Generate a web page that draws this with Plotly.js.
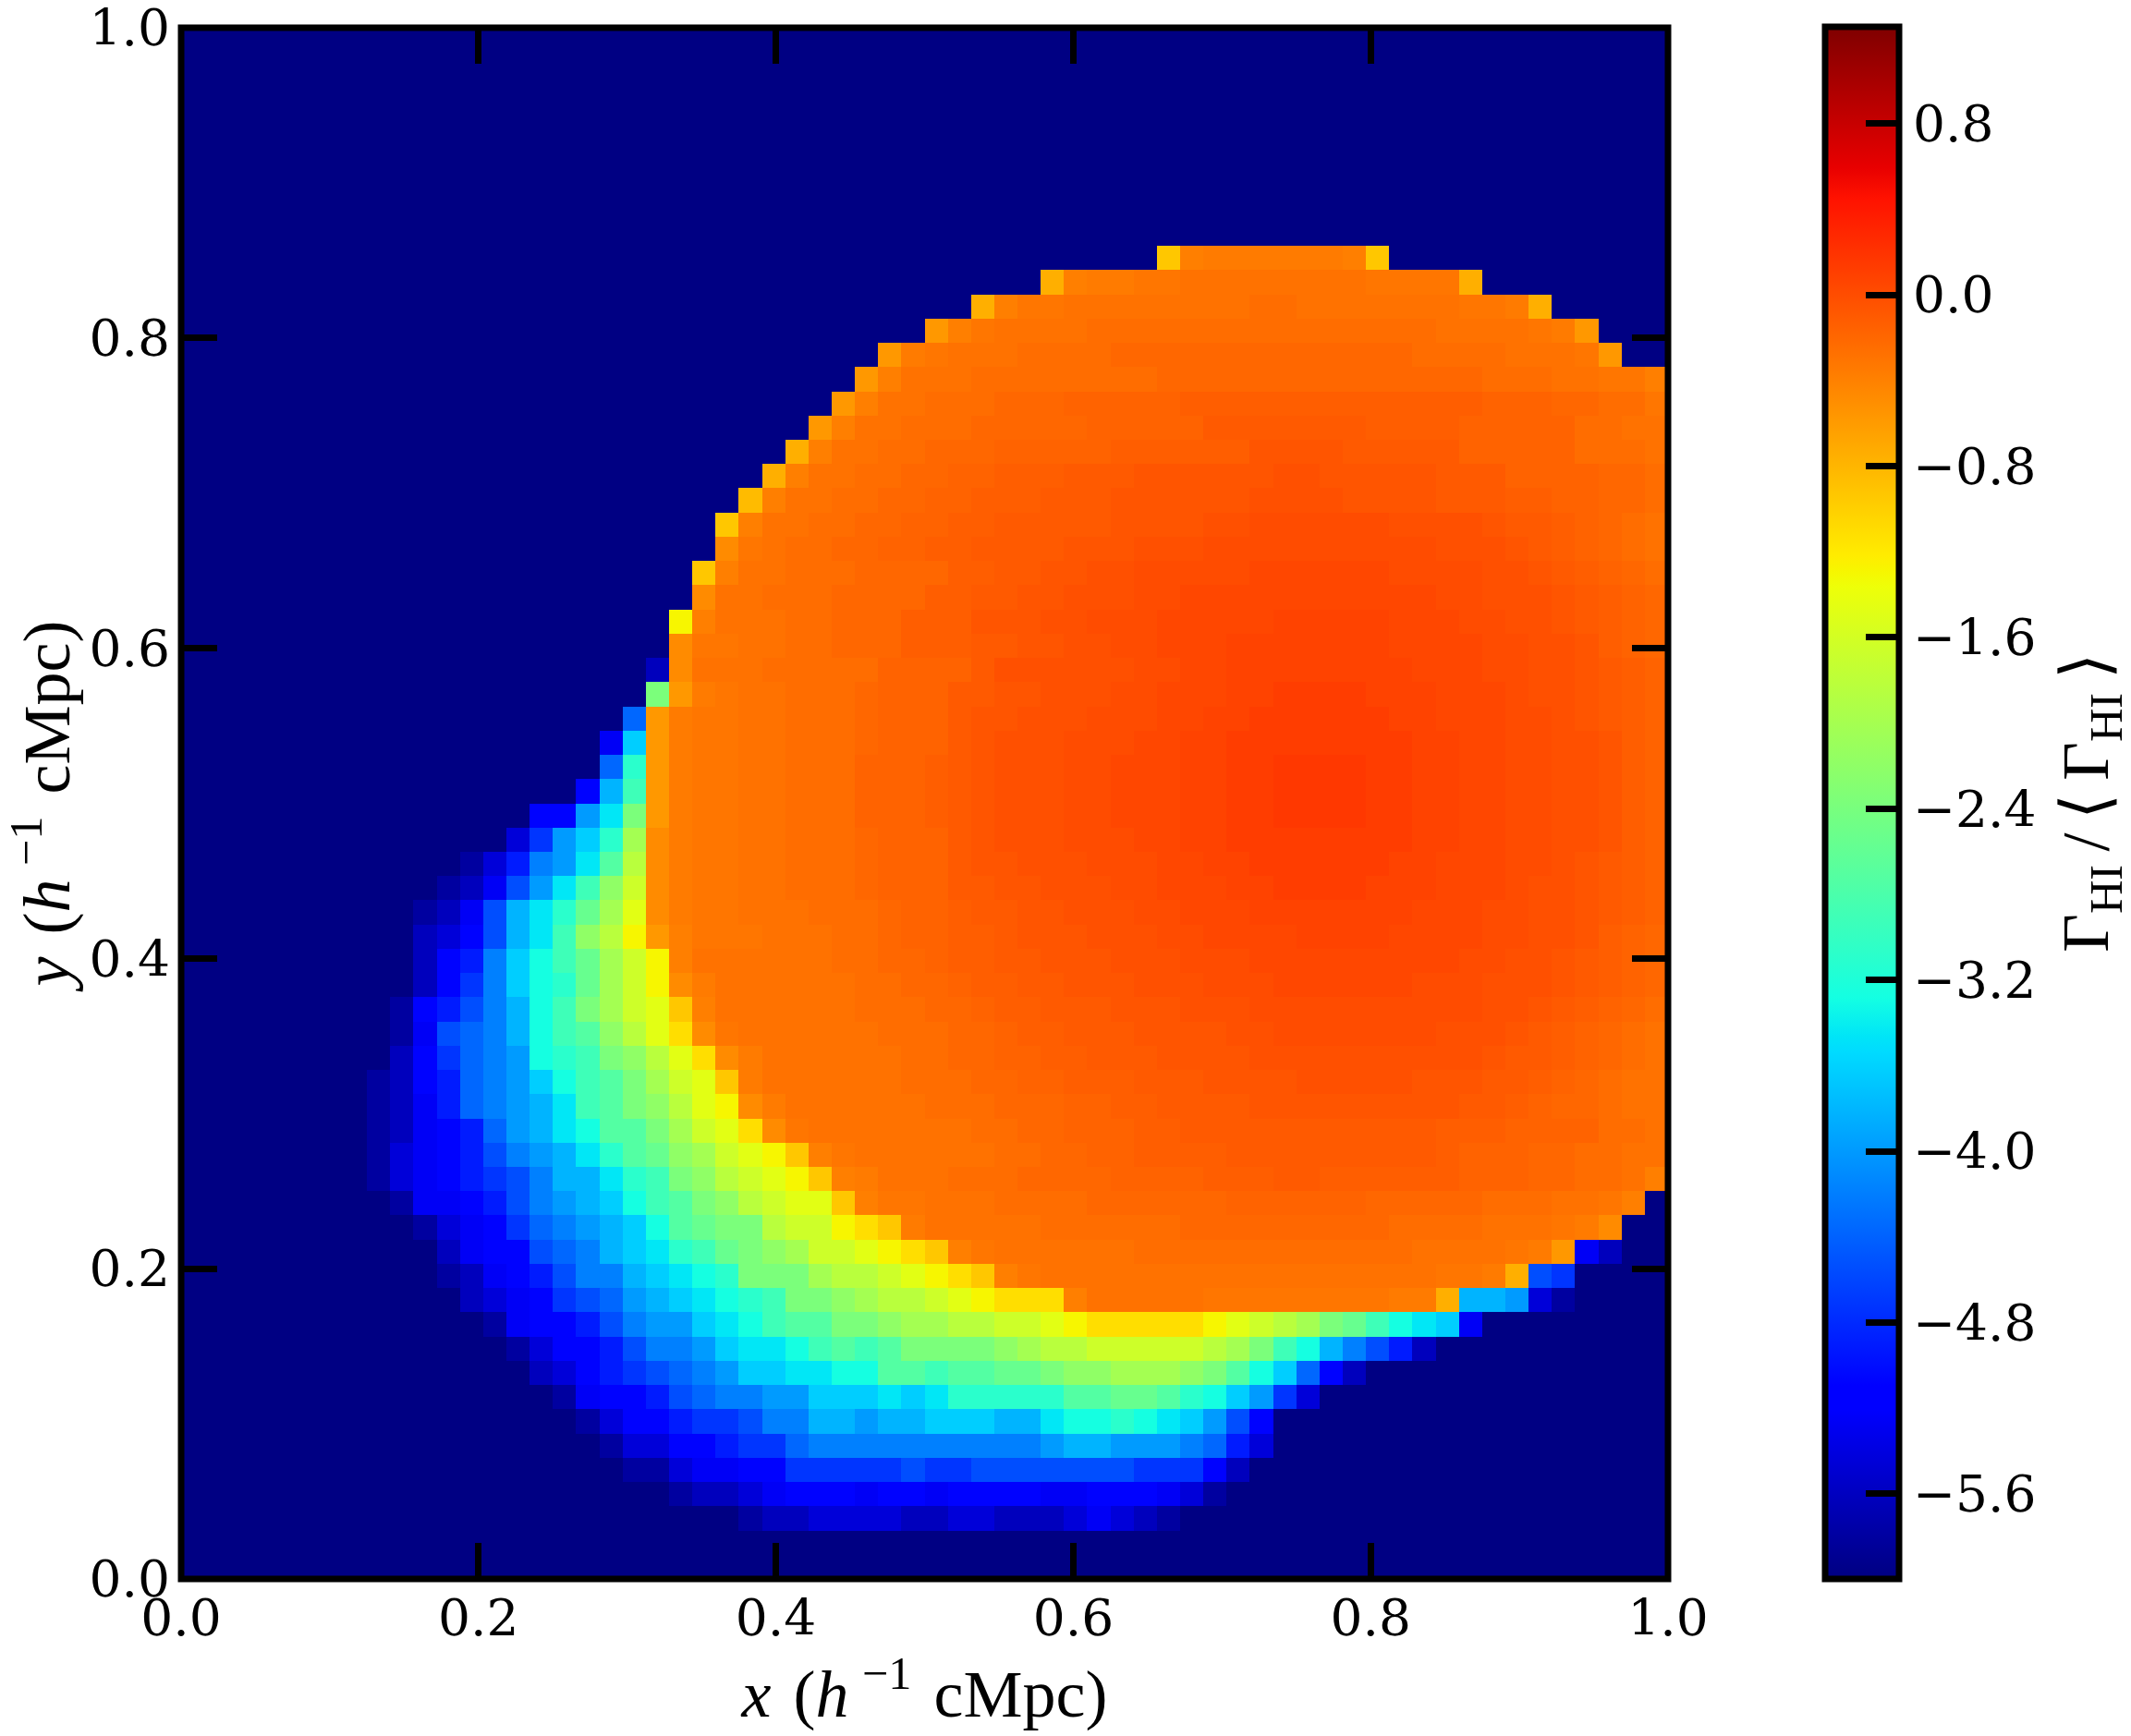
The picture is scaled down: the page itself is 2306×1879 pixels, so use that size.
<!DOCTYPE html>
<html>
<head>
<meta charset="utf-8">
<script src="https://cdn.plot.ly/plotly-3.0.1.min.js"></script>
<style>html,body{margin:0;padding:0;background:#fff}</style>
</head>
<body>
<div id="chart" style="width:2306px;height:1879px"></div>
<script>
// Values. Each cell of the 64 x 64 map is a symbol, each symbol one value.
const levelChars = "0123456789abcdefghijklmnopqrstuvwxABCDEFGHIJKLMNO";
const levelValues = [-5.98,-5.80,-5.62,-5.44,-5.26,-5.08,-4.90,-4.72,-4.54,-4.36,
  -4.18,-3.99,-3.81,-3.63,-3.45,-3.27,-3.09,-2.91,-2.73,-2.55,-2.37,-2.19,-2.01,-1.83,-1.65,-1.47,-1.29,-1.11,-0.93,-0.75,-0.57,-0.38,-0.84,-0.47,
  -0.35,-0.31,-0.28,-0.24,-0.20,-0.17,-0.13,-0.10,-0.06,-0.02,0.01,0.05,0.08,0.12,0.16];
// Rows from the top of the map down; "col:symbol" = this symbol from this column on.
const rowsTopDown = [
"0:0","0:0","0:0","0:0","0:0","0:0","0:0","0:0","0:0",
"0:0 42:s 43:v 44:A 50:v 51:s 52:0",
"0:0 37:t 38:v 39:A 41:B 43:C 51:B 55:t 56:0",
"0:0 34:t 35:v 36:B 38:C 46:D 48:C 55:B 57:A 58:t 59:0",
"0:0 32:u 33:v 34:B 35:C 39:D 54:C 58:B 59:A 60:u 61:0",
"0:0 30:u 31:A 32:B 33:C 36:D 40:E 53:D 57:C 60:B 61:u 62:0",
"0:0 29:u 30:v 31:C 34:D 42:E 56:D 59:C 61:B 63:v",
"0:0 28:u 29:v 30:C 32:D 35:E 38:F 43:G 56:F 59:E 61:D 63:B",
"0:0 27:u 28:v 29:C 31:D 34:E 39:F 44:H 51:G 55:F 60:D 62:C",
"0:0 26:t 27:v 28:C 30:D 32:E 35:F 40:G 46:I 50:H 55:F 60:D 63:C",
"0:0 25:t 26:v 27:C 29:D 31:E 33:F 35:G 38:H 41:I 47:J 49:I 54:H 57:F 61:E 63:D",
"0:0 24:w 25:v 26:C 28:D 30:E 32:F 34:G 37:H 40:I 46:J 50:I 54:H 57:G 59:F 61:E 63:D",
"0:0 23:s 24:v 25:C 27:D 29:E 31:F 33:G 35:H 40:I 44:J 46:K 52:J 56:I 57:H 59:G 60:F 61:E 62:D 63:C",
"0:0 23:x 24:B 25:C 26:D 28:E 30:F 32:G 34:H 38:I 41:J 44:K 54:J 57:I 58:H 59:G 60:F 61:E 62:D 63:C",
"0:0 22:s 23:v 24:C 26:D 29:E 33:G 35:H 37:I 39:J 41:K 46:L 52:K 56:J 58:I 59:H 60:G 61:F 62:E 63:D",
"0:0 22:x 23:C 25:D 28:E 32:G 34:H 36:I 38:J 41:K 43:L 54:K 56:J 59:I 60:H 61:G 62:F 63:E",
"0:0 21:q 22:v 23:C 26:D 28:E 31:G 34:I 37:J 39:K 42:L 47:M 52:L 55:K 57:J 59:I 60:H 61:G 62:F 63:E",
"0:0 21:x 22:B 24:C 26:D 28:E 31:G 34:H 36:I 38:J 40:K 42:L 45:M 52:L 56:K 58:J 60:I 61:G 62:F 63:E",
"0:0 20:2 21:x 22:C 25:D 30:F 34:H 35:J 41:K 43:L 45:M 53:L 56:K 58:J 60:I 61:H 62:G 63:F",
"0:0 20:k 21:u 22:A 23:B 24:C 26:D 29:E 30:F 33:H 35:I 37:J 40:K 42:L 45:M 47:N 51:M 54:L 57:K 58:J 60:I 61:H 62:G 63:F",
"0:0 19:9 20:u 21:A 22:B 24:C 26:D 29:E 30:F 33:H 34:I 36:J 39:K 42:L 44:M 46:N 52:M 54:L 57:K 59:J 60:I 61:H 62:G 63:F",
"0:0 18:4 19:d 20:u 21:A 22:B 24:C 26:D 29:E 30:F 33:H 34:I 35:J 38:K 41:L 43:M 45:N 53:M 55:L 57:K 59:J 61:I 62:G 63:F",
"0:0 18:9 19:g 20:u 21:A 22:B 24:C 26:D 29:F 32:G 33:H 34:I 35:J 38:K 40:L 43:M 45:N 47:O 51:N 53:M 55:L 57:K 59:J 61:I 62:G 63:F",
"0:0 17:5 18:c 19:h 20:u 21:A 22:B 24:C 26:D 29:F 32:G 33:H 34:I 35:J 38:K 40:L 43:M 45:N 47:O 51:N 53:M 55:L 57:K 59:J 61:I 62:G 63:F",
"0:0 15:5 17:b 18:e 19:k 20:u 21:A 22:B 24:C 26:D 29:F 32:G 33:H 34:I 35:J 38:K 40:L 43:M 45:N 47:O 51:N 53:M 55:L 57:K 59:J 61:I 62:G 63:F",
"0:0 14:3 15:7 16:b 17:d 18:g 19:m 20:x 21:A 22:B 24:C 26:D 29:E 30:F 33:H 34:I 35:J 38:K 41:L 43:M 45:N 53:M 55:L 57:K 59:J 61:I 62:G 63:F",
"0:0 12:1 13:3 14:6 15:a 16:b 17:e 18:i 19:n 20:x 21:A 22:B 24:C 26:D 29:E 30:F 33:H 34:I 36:J 39:K 42:L 44:M 46:N 52:M 54:L 57:K 59:J 60:I 61:H 62:G 63:F",
"0:0 11:1 12:2 13:4 14:8 15:b 16:e 17:h 18:l 19:o 20:x 21:A 22:B 24:C 26:D 29:E 30:F 33:H 35:I 37:J 40:K 42:L 45:M 47:N 51:M 54:L 57:K 58:J 60:I 61:H 62:G 63:F",
"0:0 10:1 11:2 12:4 13:8 14:c 15:e 16:g 17:j 18:m 19:p 20:x 21:A 22:B 24:C 27:D 30:E 31:F 33:G 34:H 36:I 38:J 41:K 43:L 46:M 53:L 56:K 58:J 60:I 61:H 62:G 63:F",
"0:0 10:2 11:3 12:5 13:8 14:c 15:e 16:h 17:l 18:n 19:q 20:u 21:v 22:B 25:C 28:D 30:E 31:F 33:G 35:H 36:I 39:J 42:K 44:L 48:M 52:L 56:K 58:J 60:I 61:G 62:F 63:E",
"0:0 10:2 11:5 12:6 13:a 14:d 15:f 16:h 17:j 18:m 19:o 20:q 21:v 22:C 28:D 30:E 32:F 33:G 35:H 37:I 40:J 43:K 46:L 55:K 57:J 59:I 60:H 61:G 62:F 63:E",
"0:0 10:2 11:5 12:7 13:a 14:d 15:f 16:g 17:j 18:m 19:o 20:q 21:x 22:A 23:C 29:D 31:E 33:F 34:G 36:H 38:I 41:J 44:K 47:L 53:K 56:J 59:I 60:H 61:G 62:F 63:E",
"0:0 9:1 10:5 11:6 12:8 13:a 14:c 15:f 16:h 17:k 18:m 19:o 20:p 21:s 22:v 23:C 29:D 32:E 34:F 35:G 37:H 40:I 43:J 46:K 56:J 58:I 59:H 60:G 61:F 62:E 63:D",
"0:0 9:1 10:4 11:8 12:9 13:a 14:c 15:f 16:h 17:i 18:l 19:n 20:p 21:r 22:x 23:B 24:C 30:D 33:E 35:F 36:G 38:H 41:I 45:J 47:K 54:J 57:I 58:H 59:G 60:F 61:E 62:D 63:C",
"0:0 9:2 10:5 11:7 12:9 13:a 14:b 15:f 16:g 17:h 18:k 19:l 20:n 21:p 22:r 23:x 24:A 25:C 31:D 33:E 35:F 37:G 39:H 42:I 46:J 56:I 57:H 59:G 60:F 61:E 62:D 63:C",
"0:0 8:1 9:2 10:5 11:6 12:9 13:a 14:b 15:d 16:f 17:h 18:i 19:k 20:m 21:o 22:p 23:s 24:A 25:C 31:D 34:E 36:F 38:G 41:H 44:I 48:J 53:I 56:H 58:G 59:F 60:E 61:D 62:C",
"0:0 8:1 9:2 10:4 11:6 12:9 13:a 14:b 15:c 16:e 17:h 18:i 19:k 20:l 21:n 22:p 23:q 24:x 25:A 26:C 32:D 35:E 38:F 40:G 42:H 46:I 55:H 57:G 58:F 59:E 61:D 62:C",
"0:0 8:1 9:2 10:4 11:5 12:6 13:9 14:b 15:c 16:e 17:f 18:i 20:k 21:m 22:o 23:p 24:r 25:x 26:B 27:C 34:D 36:E 38:F 41:G 43:H 54:G 57:F 61:D 63:C",
"0:0 8:1 9:3 10:4 11:5 12:6 13:8 14:a 15:b 16:c 17:e 18:g 19:i 20:j 21:l 22:m 23:o 24:p 25:q 26:s 27:v 28:B 29:C 35:D 37:E 39:F 41:G 45:H 54:G 55:F 58:E 60:D 62:C",
"0:0 8:1 9:3 10:4 11:5 12:6 13:7 14:8 15:a 16:c 18:e 19:g 20:h 21:k 22:l 23:n 24:o 25:p 26:q 27:s 28:v 29:A 30:C 33:D 36:E 40:F 44:G 47:H 49:G 55:F 58:E 60:D 62:C 63:v",
"0:0 9:1 10:4 12:5 13:6 14:8 15:a 16:b 17:c 18:d 19:f 20:h 21:i 22:k 23:l 24:n 25:o 26:p 28:s 29:v 30:B 32:C 35:D 39:E 45:F 51:E 56:D 59:C 61:B 62:v 63:0",
"0:0 10:1 11:3 12:4 13:5 14:7 15:9 16:a 17:b 18:c 19:d 20:f 21:i 22:j 23:k 25:n 26:o 28:q 29:r 30:s 31:A 32:C 37:D 43:E 52:D 56:C 59:B 60:A 61:x 62:0",
"0:0 11:2 12:4 13:5 15:8 16:9 17:a 18:c 19:d 20:e 21:g 22:h 23:j 24:k 25:l 26:m 27:o 29:p 30:q 31:r 32:s 33:v 34:B 35:C 41:D 53:C 57:B 58:A 59:u 60:4 61:2 62:0",
"0:0 11:1 12:2 13:4 14:5 15:6 16:8 17:a 19:c 20:d 21:e 22:f 23:g 24:k 27:m 28:n 30:o 31:p 32:q 33:r 34:s 35:v 36:B 37:C 54:B 56:A 57:t 58:8 59:7 60:0",
"0:0 12:2 13:3 14:4 15:5 16:7 17:8 18:9 19:b 20:c 21:d 22:e 23:f 24:g 25:h 26:k 28:l 29:m 30:n 32:o 33:p 34:q 35:r 38:v 39:C 44:B 52:A 54:t 55:c 57:b 58:3 59:1 60:0",
"0:0 13:1 14:4 15:5 17:6 18:8 19:a 20:b 22:d 23:e 24:f 25:h 26:i 28:k 30:l 31:m 33:n 35:o 37:p 38:q 39:r 44:q 45:p 46:o 47:n 48:m 49:k 50:j 51:h 52:f 53:e 54:d 55:4 56:0",
"0:0 14:1 15:3 16:5 18:6 19:8 20:a 22:b 23:d 24:e 26:f 27:h 28:i 29:h 30:i 31:k 35:l 36:m 37:n 39:o 44:n 45:m 46:k 47:h 48:f 49:c 50:a 51:8 52:6 53:2 54:0",
"0:0 15:2 16:3 17:5 18:6 19:7 20:8 21:9 22:a 23:b 24:d 26:e 28:f 30:i 32:h 33:i 35:j 37:k 38:l 40:m 43:l 44:k 45:i 46:f 47:d 48:9 49:5 50:2 51:0",
"0:0 16:1 17:4 18:5 20:6 21:8 22:9 23:a 25:b 27:d 30:e 31:d 32:e 33:g 38:i 40:j 42:i 43:g 44:f 45:d 46:b 47:7 48:3 49:0",
"0:0 17:1 18:3 19:5 21:6 22:7 24:8 25:a 27:c 29:b 30:c 32:d 35:c 37:e 38:f 40:g 41:f 42:e 43:d 44:b 45:8 46:5 47:0",
"0:0 18:1 19:3 21:5 23:6 24:7 26:9 27:a 37:b 38:c 40:b 43:a 44:9 45:6 46:3 47:0",
"0:0 19:1 21:3 22:4 24:5 26:7 31:8 32:7 34:8 41:7 44:5 45:2 46:0",
"0:0 21:1 22:2 24:3 25:4 26:5 29:4 30:5 32:4 33:5 37:4 39:5 42:4 43:3 44:1 45:0",
"0:0 24:1 25:2 27:3 31:2 33:3 35:2 38:3 39:4 40:3 41:2 42:1 43:0",
"0:0","0:0"
];
const axisTicks = [0, 0.2, 0.4, 0.6, 0.8, 1];
const axisTickLabels = ["0.0", "0.2", "0.4", "0.6", "0.8", "1.0"];
const barTicks = [-5.6, -4.8, -4.0, -3.2, -2.4, -1.6, -0.8, 0.0, 0.8];
const barTickLabels = ["\u22125.6", "\u22124.8", "\u22124.0", "\u22123.2", "\u22122.4", "\u22121.6", "\u22120.8", "0.0", "0.8"];
const colourMin = -6.0, colourMax = 1.25;

function decodeRow(text) {
  const cells = new Array(64).fill(levelValues[0]);
  const tokens = text.split(" ");
  tokens.forEach(function (tok, i) {
    const p = tok.split(":");
    const start = +p[0];
    const end = i + 1 < tokens.length ? +tokens[i + 1].split(":")[0] : 64;
    const v = levelValues[levelChars.indexOf(p[1])];
    for (let c = start; c < end; c++) cells[c] = v;
  });
  return cells;
}
const z = rowsTopDown.map(decodeRow);

const jet = [
  [0, "rgb(0,0,128)"], [0.11, "rgb(0,0,255)"], [0.125, "rgb(0,0,255)"],
  [0.34, "rgb(0,219,255)"], [0.35, "rgb(0,229,247)"], [0.375, "rgb(20,255,226)"],
  [0.64, "rgb(238,255,8)"], [0.65, "rgb(247,246,0)"], [0.66, "rgb(255,236,0)"],
  [0.89, "rgb(255,18,0)"], [0.91, "rgb(232,0,0)"], [1, "rgb(128,0,0)"]
];

const tickFont = {family: "DejaVu Serif", size: 55, color: "#000"};
const titleFont = {family: "Liberation Serif", size: 72, color: "#000"};
const axisBase = {
  range: [0, 1], tickmode: "array", tickvals: axisTicks, ticktext: axisTickLabels,
  ticks: "inside", ticklen: 39, tickwidth: 7, tickcolor: "#000", mirror: "ticks",
  showline: false, showgrid: false, zeroline: false, tickfont: tickFont,
  ticklabeloverflow: "allow"
};
const axisTitleText = "(<i>h</i>\u2009<sup>\u22121</sup> \u200acMpc)";

Plotly.newPlot("chart", [{
  type: "heatmap", z: z, x0: 1 / 128, dx: 1 / 64, y0: 1 - 1 / 128, dy: -1 / 64,
  zmin: colourMin, zmax: colourMax, zsmooth: false, colorscale: jet, hoverinfo: "skip",
  colorbar: {
    xref: "paper", x: (1975.5 - 195.5) / 1610, xanchor: "left", xpad: 0,
    yref: "paper", y: 0.5, yanchor: "middle", ypad: 0,
    thicknessmode: "pixels", thickness: 80, lenmode: "pixels", len: 1680,
    outlinewidth: 7, outlinecolor: "#000", borderwidth: 0,
    tickmode: "array", tickvals: barTicks, ticktext: barTickLabels,
    ticks: "inside", ticklen: 39, tickwidth: 7, tickcolor: "#000", tickfont: tickFont
  }
}], {
  width: 2306, height: 1879, paper_bgcolor: "#fff", plot_bgcolor: "#000080",
  margin: {l: 195.5, r: 500.5, t: 29.5, b: 169.5, pad: 0, autoexpand: false},
  xaxis: Object.assign({}, axisBase, {ticklabelstandoff: 5,
    title: {text: "<i>x</i> \u200a" + axisTitleText, font: titleFont, standoff: 15}}),
  yaxis: Object.assign({}, axisBase, {ticklabelstandoff: 11,
    title: {text: "<i>y</i> \u200a" + axisTitleText, font: titleFont, standoff: 15}}),
  shapes: [{type: "rect", xref: "paper", yref: "paper", x0: 0, x1: 1, y0: 0, y1: 1,
    line: {color: "#000", width: 7}, fillcolor: "rgba(0,0,0,0)", layer: "above"}],
  annotations: [{
    xref: "paper", yref: "paper", x: (2262 - 195.5) / 1610, y: 0.5, showarrow: false,
    textangle: -90, xanchor: "center", yanchor: "middle",
    text: "\u0393<sub>HI</sub>\u2009/\u2009\u27E8\u2009\u0393<sub>HI</sub>\u2009\u27E9",
    font: titleFont
  }],
  showlegend: false
}, {displayModeBar: false, staticPlot: true});
</script>
</body>
</html>
